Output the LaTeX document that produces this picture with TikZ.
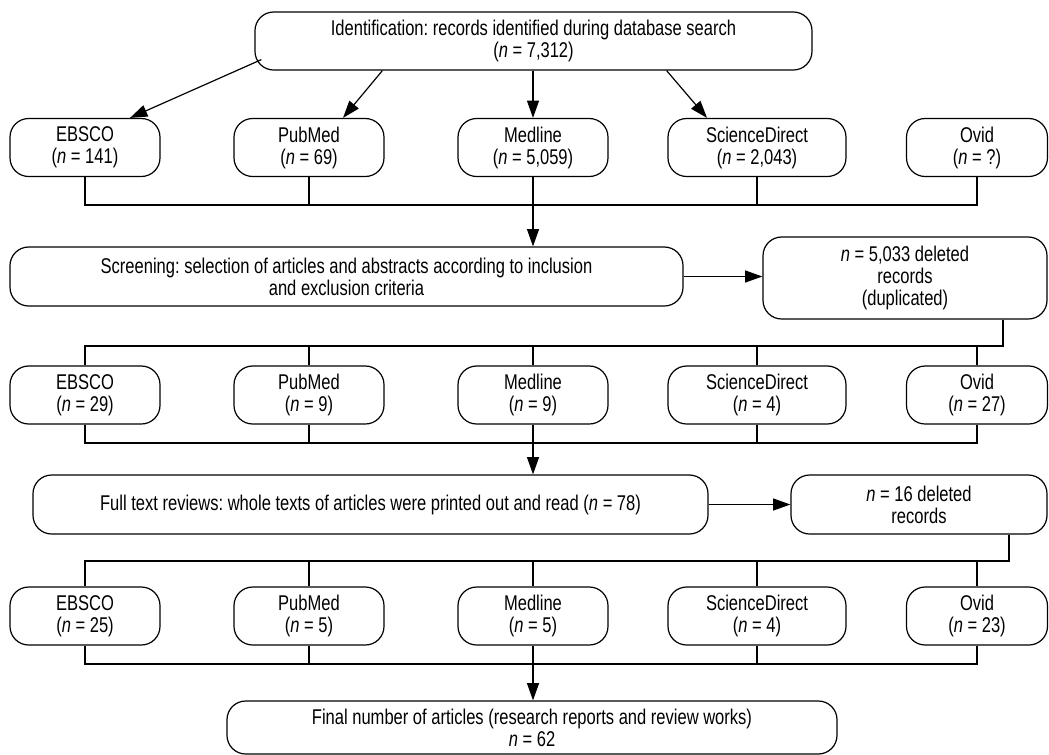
\documentclass[tikz,border=0pt]{standalone}
\usepackage{fontspec}
\setmainfont{Liberation Sans}[FakeStretch=0.775]
\usepackage{tikz}
\usetikzlibrary{arrows.meta, positioning, calc}
\frenchspacing

\begin{document}
\begin{tikzpicture}[x=0.75pt, y=-0.75pt, line width=0.9pt,
    every node/.style={font=\fontsize{16}{16.5}\selectfont},
    box/.style={draw, rounded corners=14pt, align=center, inner sep=0pt},
    db/.style={box, minimum width=112.5pt, minimum height=43.5pt},
    arr/.style={-{Triangle[length=13pt, width=9pt]}}]

    \useasboundingbox (0,0) rectangle (1049,754);

    % identification
    \node[box, minimum width=417.75pt, minimum height=43.5pt] (ident) at (533.5,41) {Identification: records identified during database search\\(\textit{n}~=~7,312)};

    % databases, first count
    \node[db] (ebsco1) at (85,147.5) {EBSCO\\(\textit{n}~=~141)};
    \node[db] (pubmed1) at (309,147.5) {PubMed\\(\textit{n}~=~69)};
    \node[db] (medline1) at (533,147.5) {Medline\\(\textit{n}~=~5,059)};
    \node[db, minimum width=133.5pt] (scidir1) at (757,147.5) {ScienceDirect\\(\textit{n}~=~2,043)};
    \node[db, minimum width=105.75pt] (ovid1) at (977,147.5) {Ovid\\(\textit{n}~=~?)};

    \draw[arr] ([xshift=5.25pt, yshift=8.25pt]ident.south west) -- ([xshift=33.75pt]ebsco1.north);
    \draw[arr] ([xshift=96pt]ident.south west) -- ([xshift=25.5pt]pubmed1.north);
    \draw[arr] (medline1.north |- ident.south) -- (medline1.north);
    \draw[arr] ([xshift=-109.5pt]ident.south east) -- ([xshift=-37.5pt]scidir1.north);

    % screening
    \node[box, minimum width=504.75pt, minimum height=44.25pt] (screen) at (346.5,276.5) {Screening: selection of articles and abstracts according to inclusion\\and exclusion criteria};
    \node[box, minimum width=213pt, minimum height=61.5pt] (del1) at (905,278) {\textit{n}~=~5,033 deleted\\records\\(duplicated)};

    \coordinate (join1) at (533,205);
    \draw (ebsco1.south) |- (join1) -| (ovid1.south);
    \draw (pubmed1.south) -- (pubmed1.south |- join1);
    \draw (scidir1.south) -- (scidir1.south |- join1);
    \draw[arr] (medline1.south) -- (medline1.south |- screen.north);
    \draw[arr] (screen.east) -- (del1.west |- screen.east);

    % databases, after screening
    \node[db] (ebsco2) at (85,395) {EBSCO\\(\textit{n}~=~29)};
    \node[db] (pubmed2) at (309,395) {PubMed\\(\textit{n}~=~9)};
    \node[db] (medline2) at (533,395) {Medline\\(\textit{n}~=~9)};
    \node[db, minimum width=133.5pt] (scidir2) at (757,395) {ScienceDirect\\(\textit{n}~=~4)};
    \node[db, minimum width=105.75pt] (ovid2) at (977,395) {Ovid\\(\textit{n}~=~27)};

    \coordinate (join2) at (533,346);
    \draw ([xshift=73.5pt]del1.south) |- (join2) -| (ebsco2.north);
    \draw (pubmed2.north) -- (pubmed2.north |- join2);
    \draw (medline2.north) -- (medline2.north |- join2);
    \draw (scidir2.north) -- (scidir2.north |- join2);
    \draw (ovid2.north) -- (ovid2.north |- join2);

    % full text reviews
    \node[box, minimum width=506.25pt, minimum height=44.25pt] (full) at (370.5,504.5) {Full text reviews: whole texts of articles were printed out and read (\textit{n}~=~78)};
    \node[box, minimum width=192pt, minimum height=44.25pt] (del2) at (919,504.5) {\textit{n}~=~16 deleted\\records};

    \coordinate (join3) at (533,443);
    \draw (ebsco2.south) |- (join3) -| (ovid2.south);
    \draw (pubmed2.south) -- (pubmed2.south |- join3);
    \draw (scidir2.south) -- (scidir2.south |- join3);
    \draw[arr] (medline2.south) -- (medline2.south |- full.north);
    \draw[arr] (full.east) -- (del2.west |- full.east);

    % databases, after full text
    \node[db] (ebsco3) at (85,616) {EBSCO\\(\textit{n}~=~25)};
    \node[db] (pubmed3) at (309,616) {PubMed\\(\textit{n}~=~5)};
    \node[db] (medline3) at (533,616) {Medline\\(\textit{n}~=~5)};
    \node[db, minimum width=133.5pt] (scidir3) at (757,616) {ScienceDirect\\(\textit{n}~=~4)};
    \node[db, minimum width=105.75pt] (ovid3) at (977,616) {Ovid\\(\textit{n}~=~23)};

    \coordinate (join4) at (533,561);
    \draw ([xshift=67.5pt]del2.south) |- (join4) -| (ebsco3.north);
    \draw (pubmed3.north) -- (pubmed3.north |- join4);
    \draw (medline3.north) -- (medline3.north |- join4);
    \draw (scidir3.north) -- (scidir3.north |- join4);
    \draw (ovid3.north) -- (ovid3.north |- join4);

    % final
    \node[box, minimum width=457.5pt, minimum height=39.75pt] (final) at (532,727.5) {Final number of articles (research reports and review works)\\\textit{n}~=~62};

    \coordinate (join5) at (533,664);
    \draw (ebsco3.south) |- (join5) -| (ovid3.south);
    \draw (pubmed3.south) -- (pubmed3.south |- join5);
    \draw (scidir3.south) -- (scidir3.south |- join5);
    \draw[arr] (medline3.south) -- (medline3.south |- final.north);

\end{tikzpicture}
\end{document}
